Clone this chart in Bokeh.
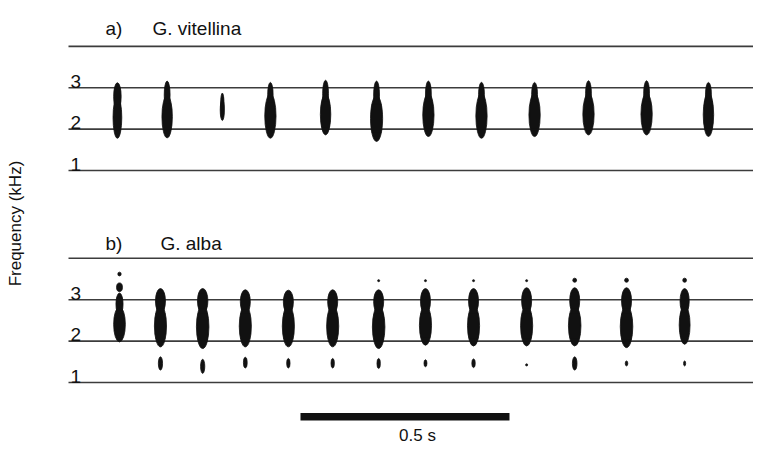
import numpy as np
from bokeh.plotting import figure
from bokeh.models import ColumnDataSource, Range1d
from bokeh.core.properties import value
from bokeh.embed import file_html
from bokeh.resources import INLINE

# ---------------- data ----------------
freq_lines = [1, 2, 3, 4]            # kHz grid lines in each panel
freq_ticks = [1, 2, 3]
tick_labels = ["1", "2", "3"]
panel_tags = ["a)", "b)"]
species = ["G. vitellina", "G. alba"]
y_label = "Frequency (kHz)"
scale_bar_s = 0.5
scale_label = "0.5 s"

# a) G. vitellina : call centre times (s), top / waist / bottom freq (kHz), lobe durations (ms)
a_time = [0.117, 0.236, 0.368, 0.483, 0.615, 0.737, 0.861, 0.988, 1.115, 1.244, 1.383, 1.531]
a_top = [3.12, 3.16, 2.87, 3.13, 3.18, 3.16, 3.16, 3.13, 3.13, 3.17, 3.17, 3.13]
a_waist = [2.62, 2.65, 2.55, 2.69, 2.69, 2.65, 2.70, 2.70, 2.70, 2.70, 2.70, 2.72]
a_bottom = [1.78, 1.79, 2.21, 1.78, 1.86, 1.70, 1.82, 1.78, 1.82, 1.86, 1.86, 1.82]
a_top_ms = [18, 14, 8, 13, 14, 14, 14, 14, 14, 14, 14, 14]
a_body_ms = [21, 25, 10, 27, 25, 29, 27, 27, 27, 27, 27, 25]

# b) G. alba
b_time = [0.122, 0.220, 0.321, 0.423, 0.526, 0.632, 0.742, 0.854, 0.969, 1.096, 1.211, 1.335, 1.474]
b_top = [3.16, 3.27, 3.27, 3.24, 3.23, 3.24, 3.24, 3.27, 3.27, 3.29, 3.29, 3.29, 3.27]
b_waist = [2.73, 2.77, 2.77, 2.76, 2.76, 2.76, 2.76, 2.76, 2.76, 2.76, 2.76, 2.76, 2.76]
b_bottom = [1.98, 1.86, 1.82, 1.86, 1.86, 1.86, 1.82, 1.90, 1.88, 1.88, 1.88, 1.84, 1.92]
b_top_ms = [17, 24, 25, 24, 24, 24, 24, 24, 24, 24, 24, 24, 22]
b_body_ms = [28, 29, 30, 29, 29, 29, 30, 29, 29, 29, 30, 30, 26]

# low (~1.4 kHz) component of calls 2..13
b_low_call = [1, 2, 3, 4, 5, 6, 7, 8, 9, 10, 11, 12]
b_low_top = [1.62, 1.56, 1.61, 1.58, 1.58, 1.58, 1.55, 1.57, 1.45, 1.62, 1.52, 1.52]
b_low_bottom = [1.30, 1.22, 1.35, 1.35, 1.35, 1.34, 1.38, 1.36, 1.40, 1.30, 1.40, 1.40]
b_low_ms = [10, 10, 9, 8, 8, 8, 7, 8, 5, 11, 6, 5]

# small high (~3.5 kHz) dots
b_dot_call = [0, 0, 6, 7, 8, 9, 10, 11, 12]
b_dot_freq = [3.62, 3.30, 3.46, 3.46, 3.46, 3.46, 3.47, 3.47, 3.47]
b_dot_khz = [0.09, 0.21, 0.05, 0.05, 0.05, 0.05, 0.10, 0.10, 0.10]
b_dot_ms = [8, 14, 5, 5, 5, 5, 9, 9, 9]

A_OFFSET = 5.12   # vertical offset of panel a in the shared frame (kHz units)

# ---------------- build lobe table ----------------
def lobes(times, top, waist, bottom, top_ms, body_ms, off, ov):
    xs, ys, ws, hs = [], [], [], []
    for t, tp, wa, bo, tw, bw in zip(times, top, waist, bottom, top_ms, body_ms):
        lo = wa - ov
        xs.append(t); ys.append((tp + lo) / 2 + off); ws.append(tw / 1000); hs.append(tp - lo)
        hi = wa + ov
        xs.append(t); ys.append((hi + bo) / 2 + off); ws.append(bw / 1000); hs.append(hi - bo)
    return xs, ys, ws, hs

ax, ay, aw, ah = lobes(a_time, a_top, a_waist, a_bottom, a_top_ms, a_body_ms, A_OFFSET, 0.16)
bx, by, bw_, bh = lobes(b_time, b_top, b_waist, b_bottom, b_top_ms, b_body_ms, 0.0, 0.10)

lx = [b_time[i] for i in b_low_call]
ly = [(t + b) / 2 for t, b in zip(b_low_top, b_low_bottom)]
lw = [m / 1000 for m in b_low_ms]
lh = [t - b for t, b in zip(b_low_top, b_low_bottom)]

dx = [b_time[i] for i in b_dot_call]
dw = [m / 1000 for m in b_dot_ms]

main = ColumnDataSource(dict(x=ax + bx, y=ay + by, w=aw + bw_, h=ah + bh))
main.data["rw"] = [w * 0.80 for w in main.data["w"]]
main.data["rh"] = [h * 0.62 for h in main.data["h"]]
small = ColumnDataSource(dict(
    x=lx + dx,
    y=ly + list(b_dot_freq),
    w=lw + dw,
    h=lh + list(b_dot_khz),
))

# ---------------- figure ----------------
p = figure(width=753, height=444, output_backend="svg", toolbar_location=None,
           x_range=Range1d(-0.16268, 1.63876), y_range=Range1d(-0.4976, 10.227),
           x_axis_location=None, y_axis_location=None, min_border=0)
p.outline_line_color = None
p.xgrid.visible = False
p.ygrid.visible = False
p.background_fill_color = "white"
p.border_fill_color = "white"

FONT = value("Liberation Sans")
INK = "#111111"

# grid lines of both panels
line_y = [f + A_OFFSET for f in freq_lines] + list(freq_lines)
p.segment(x0=[0.0] * len(line_y), x1=[1.70] * len(line_y), y0=line_y, y1=line_y,
          line_color="#3c3c3c", line_width=1.6)

# calls: rounded lobes with a squarer core
p.ellipse(x="x", y="y", width="w", height="h", source=main,
          fill_color=INK, line_color=INK, line_width=0.8)
p.rect(x="x", y="y", width="rw", height="rh", source=main,
       fill_color=INK, line_color=None)
p.ellipse(x="x", y="y", width="w", height="h", source=small,
          fill_color=INK, line_color=INK, line_width=0.8)

# frequency labels
lab_y = [f + A_OFFSET + 0.15 for f in freq_ticks] + [f + 0.15 for f in freq_ticks]
p.text(x=[0.005] * len(lab_y), y=lab_y, text=tick_labels + tick_labels,
       text_font=FONT, text_font_size=value("19px"), text_color=INK,
       text_align="left", text_baseline="alphabetic")

# panel titles
p.text(x=[0.0885, 0.0885], y=[9.543, 4.357], text=panel_tags,
       text_font=FONT, text_font_size=value("19px"), text_color=INK,
       text_align="left", text_baseline="alphabetic")
p.text(x=[0.201, 0.220], y=[9.543, 4.357], text=species,
       text_font=FONT, text_font_size=value("19px"), text_color=INK,
       text_align="left", text_baseline="alphabetic")

# y label
p.text(x=[-0.1268], y=[4.84], text=[y_label], angle=np.pi / 2,
       text_font=FONT, text_font_size=value("17px"), text_color=INK,
       text_align="center", text_baseline="middle")

# scale bar
p.segment(x0=[0.555], x1=[0.555 + scale_bar_s], y0=[0.17], y1=[0.17],
          line_color=INK, line_width=7.5, line_cap="butt")
p.text(x=[0.835], y=[-0.27], text=[scale_label],
       text_font=FONT, text_font_size=value("17px"), text_color=INK,
       text_align="center", text_baseline="alphabetic")

open("out.html", "w").write(file_html(p, INLINE))
